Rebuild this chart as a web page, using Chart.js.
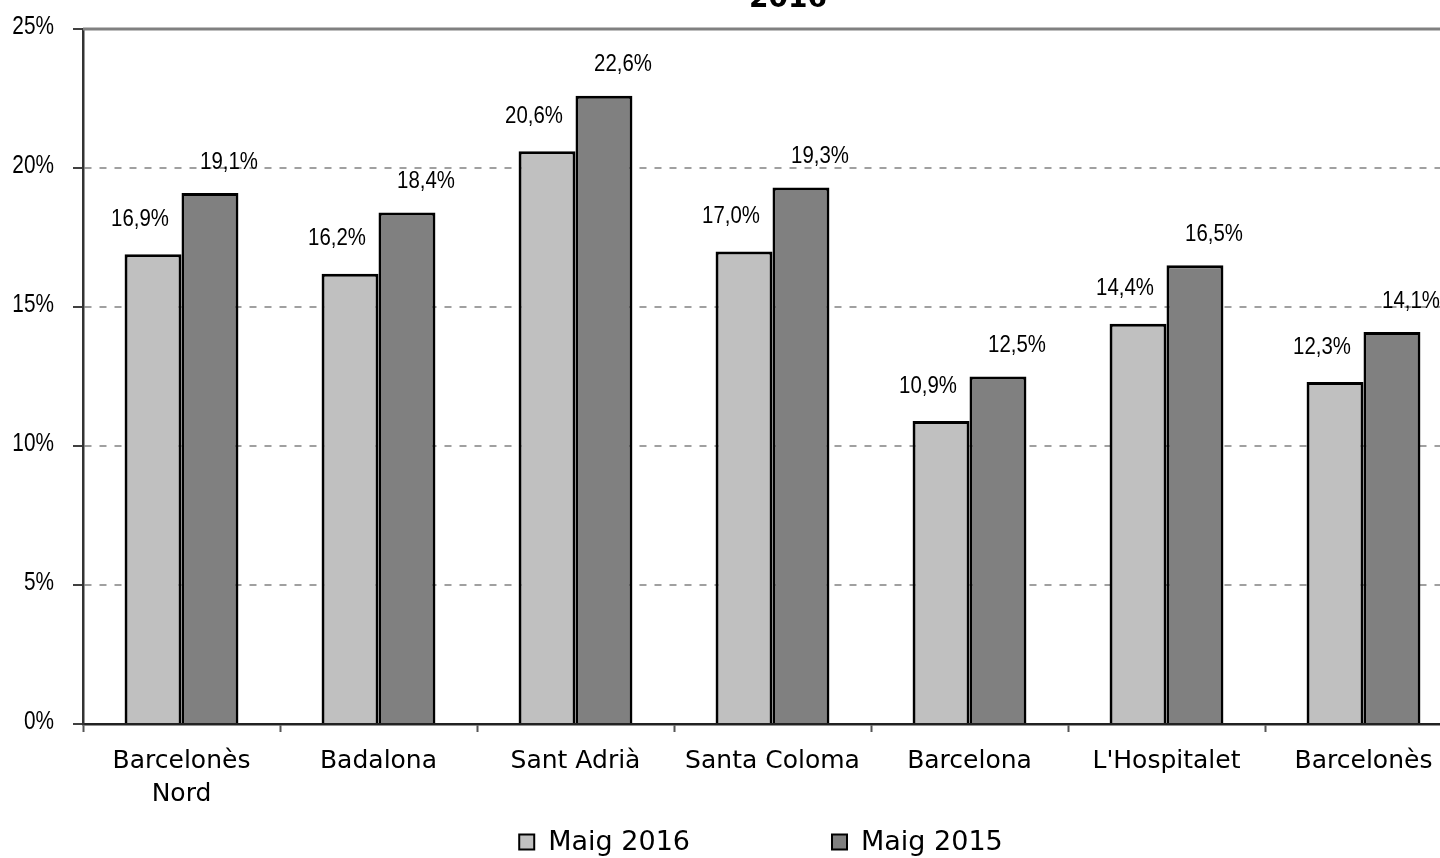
<!DOCTYPE html>
<html>
<head>
<meta charset="utf-8">
<script src="https://cdn.jsdelivr.net/npm/chart.js@4.4.1/dist/chart.umd.min.js"></script>
<style>
    html, body { margin: 0; padding: 0; background: #fff; overflow: hidden; }
    #wrap { width: 1440px; height: 858px; overflow: hidden; }
</style>
</head>
<body>
<div id="wrap"><canvas id="barChart" width="1480" height="858"></canvas></div>
<script>
// Chart data
const categories = [['Barcelonès', 'Nord'], 'Badalona', 'Sant Adrià', 'Santa Coloma', 'Barcelona', "L'Hospitalet", 'Barcelonès'];
const maig2016 = [16.9, 16.2, 20.6, 17.0, 10.9, 14.4, 12.3];
const maig2015 = [19.1, 18.4, 22.6, 19.3, 12.5, 16.5, 14.1];
const seriesNames = ['Maig 2016', 'Maig 2015'];
const yTicks = [0, 5, 10, 15, 20, 25];
const titleText = '2016';

const arialFont = "'Liberation Sans', Arial, sans-serif";
const verdanaFont = "'DejaVu Sans', Verdana, sans-serif";

const fmt = v => v.toFixed(1).replace('.', ',') + '%';

// draw text squeezed horizontally (the original uses a narrow face)
function narrowText(ctx, text, x, y, squeeze) {
    ctx.save();
    ctx.translate(x, y);
    ctx.scale(squeeze, 1);
    ctx.fillText(text, 0, 0);
    ctx.restore();
}

// Title (only the bottom of it is visible in the original)
const titlePlugin = {
    id: 'cutTitle',
    afterDraw(chart) {
        const ctx = chart.ctx;
        ctx.save();
        ctx.font = 'bold 28px ' + verdanaFont;
        ctx.fillStyle = '#000';
        ctx.textAlign = 'center';
        ctx.textBaseline = 'alphabetic';
        ctx.fillText(titleText, 788, 7);
        ctx.restore();
    }
};

// Top frame line, y tick labels and value labels above bars
const labelPlugin = {
    id: 'valueLabels',
    afterDatasetsDraw(chart) {
        const ctx = chart.ctx;
        const area = chart.chartArea;
        const yScale = chart.scales.y;
        ctx.save();
        ctx.strokeStyle = '#808080';
        ctx.lineWidth = 3;
        ctx.beginPath();
        ctx.moveTo(area.left, area.top);
        ctx.lineTo(area.right, area.top);
        ctx.stroke();

        ctx.fillStyle = '#000';
        ctx.textBaseline = 'middle';
        ctx.font = '26px ' + arialFont;
        ctx.textAlign = 'right';
        yTicks.forEach(v => {
            narrowText(ctx, v + '%', 54, yScale.getPixelForValue(v) - 2, 0.8);
        });

        ctx.font = '24px ' + arialFont;
        ctx.textAlign = 'center';
        const shift = [[-13, 35], [19, 31]];
        chart.data.datasets.forEach((ds, i) => {
            chart.getDatasetMeta(i).data.forEach((bar, j) => {
                narrowText(ctx, fmt(ds.data[j]), bar.x + shift[i][0], bar.y - shift[i][1], 0.85);
            });
        });
        ctx.restore();
    }
};

// Legend drawn by hand to get the wide gap between entries
const legendPlugin = {
    id: 'wideLegend',
    afterDraw(chart) {
        const ctx = chart.ctx;
        const box = 15, gap = 142, centerX = 761, centerY = 842;
        ctx.save();
        ctx.font = '27px ' + verdanaFont;
        ctx.textBaseline = 'middle';
        const items = chart.data.datasets.map(ds => ({
            text: ds.label,
            color: ds.backgroundColor,
            w: box + 14 + ctx.measureText(ds.label).width
        }));
        const total = items.reduce((s, it) => s + it.w, 0) + gap * (items.length - 1);
        let x = centerX - total / 2;
        items.forEach(it => {
            ctx.fillStyle = it.color;
            ctx.fillRect(x, centerY - box / 2, box, box);
            ctx.strokeStyle = '#000';
            ctx.lineWidth = 2;
            ctx.strokeRect(x, centerY - box / 2, box, box);
            ctx.fillStyle = '#000';
            ctx.fillText(it.text, x + box + 14, centerY + 1);
            x += it.w + gap;
        });
        ctx.restore();
    }
};

const ctx = document.getElementById('barChart').getContext('2d');
new Chart(ctx, {
    type: 'bar',
    data: {
        labels: categories,
        datasets: [{
            label: seriesNames[0],
            data: maig2016,
            backgroundColor: '#c0c0c0',
            borderColor: '#000',
            borderWidth: 3,
            borderSkipped: 'bottom'
        }, {
            label: seriesNames[1],
            data: maig2015,
            backgroundColor: '#808080',
            borderColor: '#000',
            borderWidth: 3,
            borderSkipped: 'bottom'
        }]
    },
    options: {
        responsive: false,
        animation: false,
        layout: { padding: { top: 29, right: 18, bottom: 44, left: 0 } },
        datasets: {
            bar: { categoryPercentage: 0.578, barPercentage: 1 }
        },
        scales: {
            x: {
                grid: {
                    offset: true,
                    drawOnChartArea: false,
                    drawTicks: true,
                    tickLength: 8,
                    tickColor: '#555',
                    tickWidth: 2
                },
                border: { color: '#222', width: 2.5 },
                ticks: {
                    color: '#000',
                    font: { family: verdanaFont, size: 25, lineHeight: 1.32 },
                    padding: 13,
                    maxRotation: 0,
                    autoSkip: false
                },
                afterFit(scale) { scale.height = 90; }
            },
            y: {
                min: 0,
                max: 25,
                afterBuildTicks(scale) { scale.ticks = yTicks.map(v => ({ value: v })); },
                grid: {
                    color: '#a0a0a0',
                    lineWidth: 2,
                    drawTicks: true,
                    tickLength: 10,
                    tickColor: '#000',
                    tickWidth: 1.5,
                    tickBorderDash: []
                },
                border: { color: '#333', width: 2.5, dash: [7, 8] },
                ticks: { display: false },
                afterFit(scale) { scale.width = 83; }
            }
        },
        plugins: {
            legend: { display: false },
            title: { display: false },
            tooltip: { enabled: false }
        }
    },
    plugins: [labelPlugin, legendPlugin, titlePlugin]
});
</script>
</body>
</html>
